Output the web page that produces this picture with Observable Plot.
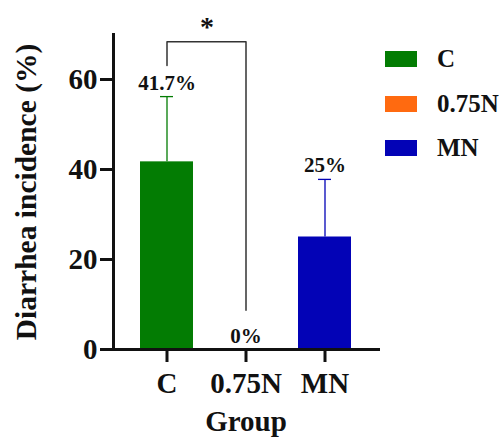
<!DOCTYPE html>
<html><head><meta charset="utf-8">
<script src="https://cdn.jsdelivr.net/npm/d3@7"></script>
<script src="https://cdn.jsdelivr.net/npm/@observablehq/plot@0.6"></script>
<style>
html,body{margin:0;padding:0;background:#fff;overflow:hidden;}
#wrap{position:relative;width:499px;height:439px;overflow:hidden;}
#wrap > svg{position:absolute;left:0;top:0;}
.lg-swatches{position:absolute;left:385px;top:37px;width:160px;margin:0;font:bold 25px 'Liberation Serif','Times New Roman',serif;color:#111;}
.lg-swatch{height:44.5px;padding:0 !important;display:flex;align-items:center;}
.lg-swatch > svg{margin-right:20px !important;}
.lg-swatch-label{overflow:visible !important;white-space:nowrap;}
</style></head>
<body><div id="wrap"></div>
<script>
const groups = ["C", "0.75N", "MN"];
const incidence = [41.7, 0, 25];
const errorUpper = [56.2, 0, 37.8];
const valueLabels = ["41.7%", "0%", "25%"];
const colors = ["#037C03", "#FF6A10", "#0303B6"];
const yTicks = [0, 20, 40, 60];
const bracketGroups = ["C", "C", "0.75N", "0.75N"];
const bracketValues = [63.1, 68.4, 68.4, 8.7];
const sigLabel = "*";
const yLabel = "Diarrhea incidence (%)";
const xLabel = "Group";

const data = groups.map((g, i) => ({g, v: incidence[i], up: errorUpper[i], lab: valueLabels[i]}));
const bracket = bracketGroups.map((g, i) => ({g, v: bracketValues[i]}));
const font = "'Liberation Serif','Times New Roman',serif";

const chart = Plot.plot({
  width: 499, height: 439,
  marginLeft: 113, marginRight: 121, marginTop: 34, marginBottom: 90,
  style: {fontFamily: font, fontWeight: "bold", background: "white", overflow: "visible", color: "#111"},
  x: {domain: groups, padding: 0.33},
  y: {domain: [0, 70]},
  color: {domain: groups, range: colors},
  marks: [
    Plot.barY(data, {x: "g", y: "v", fill: "g"}),
    Plot.ruleX(data.filter(d => d.up > d.v), {x: "g", y1: "v", y2: "up", stroke: "g", strokeWidth: 1.3}),
    Plot.tickY(data.filter(d => d.up > d.v), {x: "g", y: "up", stroke: "g", strokeWidth: 1.3, insetLeft: 20, insetRight: 20}),
    Plot.text(data, {x: "g", y: "up", text: "lab", lineAnchor: "bottom", dy: -7, fontSize: 21, fill: "#111"}),
    Plot.line(bracket, {x: "g", y: "v", stroke: "#333", strokeWidth: 1.5}),
    Plot.text([sigLabel], {x: () => groups[0], y: () => bracketValues[1], text: d => d, dx: 40, lineAnchor: "bottom", dy: -6, fontSize: 28}),
    Plot.axisY({ticks: yTicks, tickSize: 13, strokeWidth: 3, tickPadding: 3, fontSize: 29, label: null}),
    Plot.axisX({tickSize: 13, strokeWidth: 3, tickPadding: 10, fontSize: 29, label: null}),
    Plot.frame({anchor: "left", strokeWidth: 3}),
    Plot.frame({anchor: "bottom", strokeWidth: 3}),
    Plot.text([yLabel], {frameAnchor: "left", dx: -87, rotate: -90, textAnchor: "middle", lineAnchor: "middle", fontSize: 29.5, text: d => d}),
    Plot.text([xLabel], {frameAnchor: "bottom", dy: 72, textAnchor: "middle", lineAnchor: "middle", fontSize: 29, text: d => d})
  ]
});
const wrap = document.getElementById("wrap");
wrap.appendChild(chart);
const leg = Plot.legend({color: {domain: groups, range: colors}, legend: "swatches", columns: 1, swatchWidth: 32, swatchHeight: 16, className: "lg"});
wrap.appendChild(leg);
</script>
</body></html>
